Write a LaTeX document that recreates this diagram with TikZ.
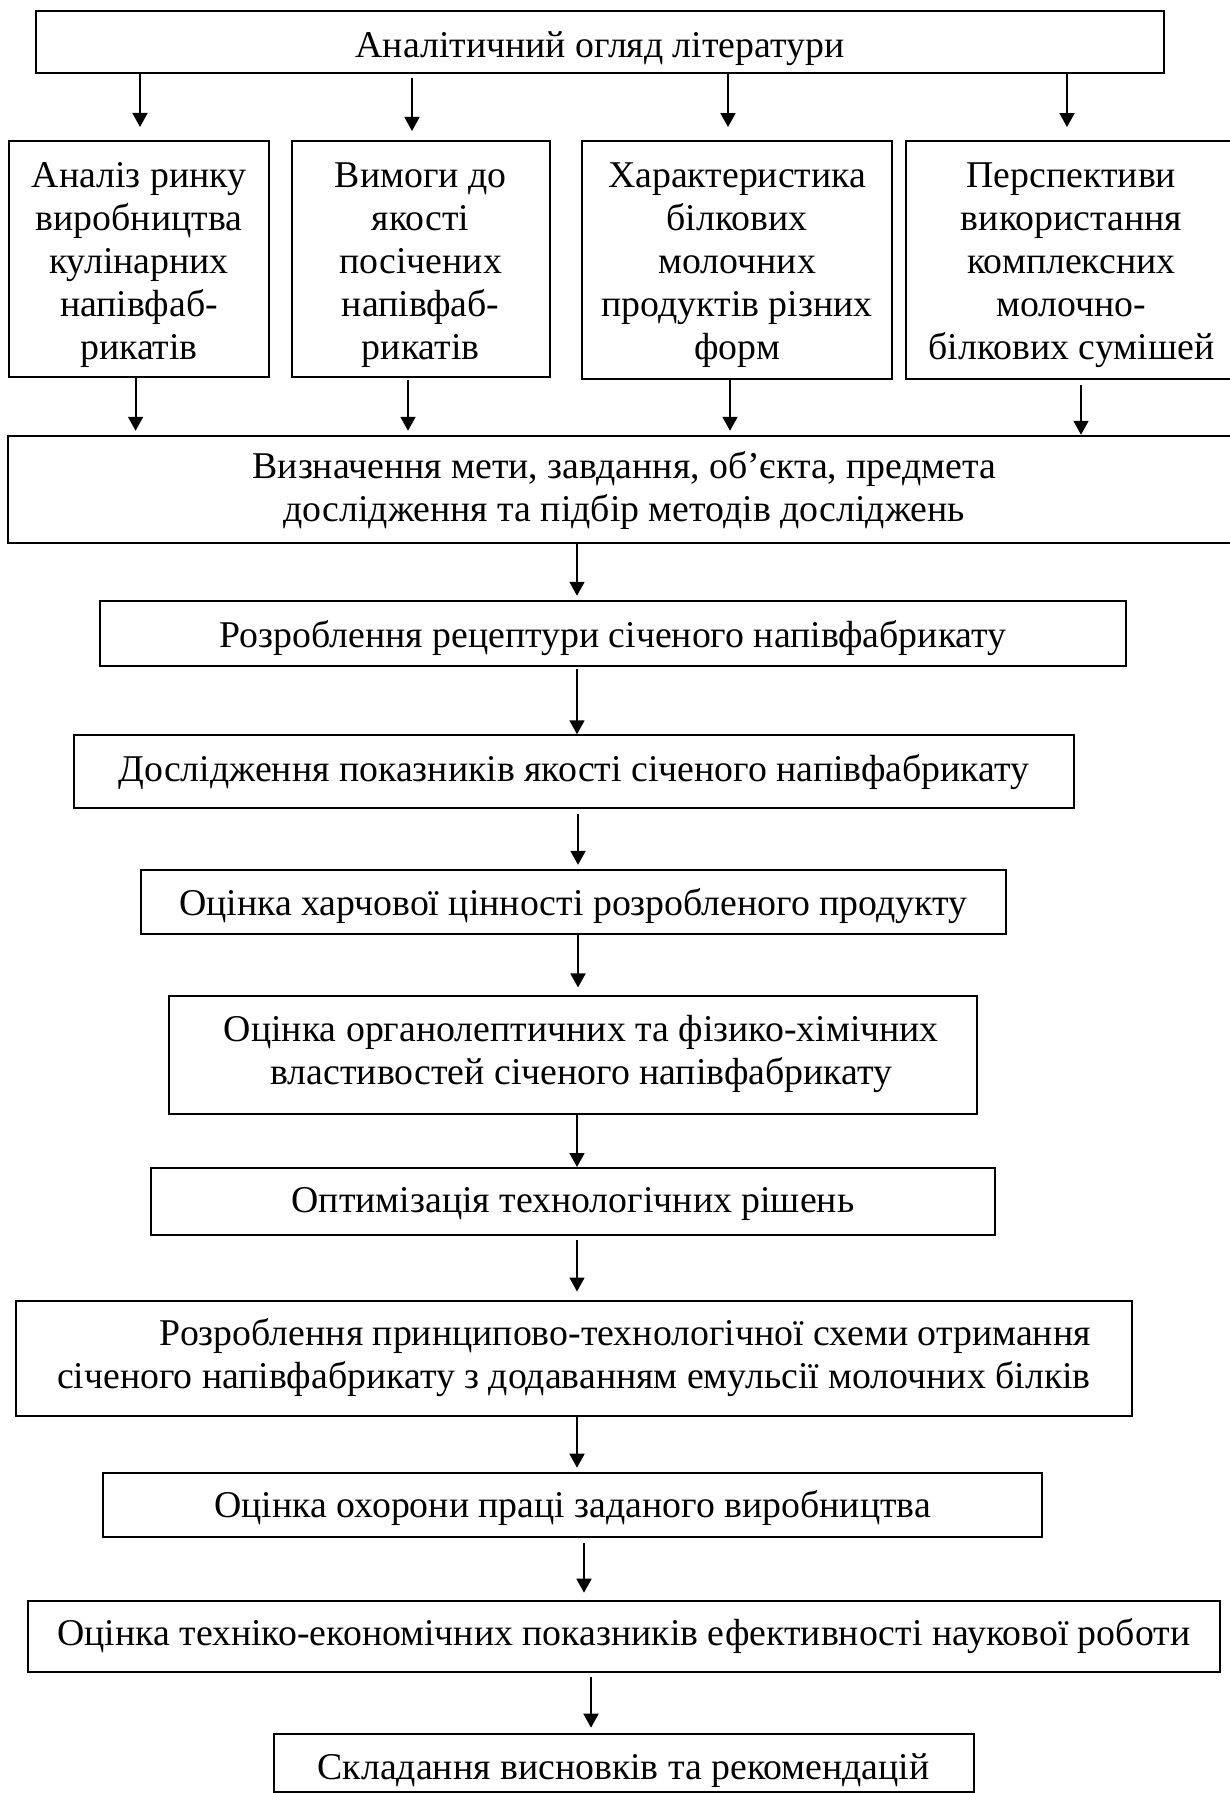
\documentclass[tikz,border=0pt]{standalone}
\usepackage{fontspec}
\setmainfont{Liberation Serif}
\usetikzlibrary{arrows.meta}
\newcommand{\mytxt}[3][c]{\raisebox{-#2}[\height][\depth]{\begin{tabular}{@{}#1@{}}#3\end{tabular}}}
\begin{document}
\begin{tikzpicture}[x=0.5pt,y=-0.5pt,
  box/.style={draw, line width=1pt, rectangle, inner sep=0pt, align=center,
    font=\fontsize{18.9}{21.5}\selectfont},
  arr/.style={-{Triangle[width=7.5pt,length=7pt]}, line width=0.9pt}]
\useasboundingbox (0,0) rectangle (1230,1793);

\node[box, minimum width=564.35pt, minimum height=30.85pt] (top) at (600,41.9) {\mytxt{3.3pt}{Аналітичний огляд літератури}};

\node[box, minimum width=130pt, minimum height=117.9pt] (b1) at (139,258.9) {\mytxt{2.8pt}{Аналіз ринку\\виробництва\\кулінарних\\напівфаб-\\рикатів}};
\node[box, minimum width=128.9pt, minimum height=117.9pt] (b2) at (420.7,258.9) {\mytxt{2.8pt}{Вимоги до\\якості\\посічених\\напівфаб-\\рикатів}};
\node[box, minimum width=155.15pt, minimum height=119.15pt] (b3) at (737.2,260.2) {\mytxt{2.2pt}{Характеристика\\білкових\\молочних\\продуктів різних\\форм}};
\node[box, minimum width=165.6pt, minimum height=119.15pt] (b4) at (1071.4,260.2) {\mytxt{2.2pt}{Перспективи\\використання\\комплексних\\молочно-\\білкових сумішей}};

\node[box, minimum width=615.75pt, minimum height=53.65pt] (big) at (624.2,489.4) {\mytxt{1pt}{Визначення мети, завдання, об’єкта, предмета\\дослідження та підбір методів досліджень}};

\node[box, minimum width=513.45pt, minimum height=32.55pt] (rec) at (613,633.7) {\mytxt{2.4pt}{Розроблення рецептури січеного напівфабрикату}};
\node[box, minimum width=500.15pt, minimum height=36.35pt] (dos) at (573.9,771.6) {\mytxt{0.5pt}{Дослідження показників якості січеного напівфабрикату}};
\node[box, minimum width=432.3pt, minimum height=32.15pt] (har) at (573.3,902) {\mytxt{2.2pt}{Оцінка харчової цінності розробленого продукту}};
\node[box, minimum width=404pt, minimum height=58.75pt] (org) at (573.4,1055.2) {\mytxt{-0.5pt}{\hspace*{8pt}Оцінка органолептичних та фізико-хімічних\\\hspace*{8pt}властивостей січеного напівфабрикату}};
\node[box, minimum width=421.6pt, minimum height=33.5pt] (opt) at (573,1201.5) {\mytxt{1.1pt}{Оптимізація технологічних рішень}};
\node[box, minimum width=558.35pt, minimum height=57.5pt] (pri) at (573.9,1358) {\mytxt[r]{0pt}{Розроблення принципово-технологічної схеми отримання\\січеного напівфабрикату з додаванням емульсії молочних білків}};
\node[box, minimum width=469.35pt, minimum height=31.9pt] (oho) at (572.7,1504.6) {\mytxt{2.1pt}{Оцінка охорони праці заданого виробництва}};
\node[box, minimum width=596.15pt, minimum height=35.8pt] (teh) at (623.7,1636.5) {\mytxt{0pt}{Оцінка техніко-економічних показників ефективності наукової роботи}};
\node[box, minimum width=349.85pt, minimum height=29pt] (skl) at (623.7,1762.7) {\mytxt{4pt}{Складання висновків та рекомендацій}};

\draw[arr, shorten >=6.5pt] (top.south -| 140,0) -- (b1.north -| 140,0);
\draw[arr, shorten <=2pt, shorten >=4.5pt] (top.south -| 412,0) -- (b2.north -| 412,0);
\draw[arr, shorten >=6.5pt] (top.south -| 728,0) -- (b3.north -| 728,0);
\draw[arr, shorten >=6.5pt] (top.south -| 1067,0) -- (b4.north -| 1067,0);

\draw[arr, shorten >=2pt] (b1.south -| 135.6,0) -- (big.north -| 135.6,0);
\draw[arr, shorten <=1pt, shorten >=2pt] (b2.south -| 408,0) -- (big.north -| 408,0);
\draw[arr, shorten >=2pt] (b3.south -| 730,0) -- (big.north -| 730,0);
\draw[arr, shorten <=2.5pt] (b4.south -| 1081,0) -- (big.north -| 1081,0);

\draw[arr, shorten >=2.2pt] (big.south -| 577,0) -- (rec.north -| 577,0);
\draw[arr, shorten <=1pt] (rec.south -| 577,0) -- (dos.north -| 577,0);
\draw[arr, shorten <=2.5pt, shorten >=2pt] (dos.south -| 578,0) -- (har.north -| 578,0);
\draw[arr, shorten >=4pt] (har.south -| 578,0) -- (org.north -| 578,0);
\draw[arr] (org.south -| 577,0) -- (opt.north -| 577,0);
\draw[arr, shorten <=2pt, shorten >=4pt] (opt.south -| 577,0) -- (pri.north -| 577,0);
\draw[arr, shorten >=2pt] (pri.south -| 577,0) -- (oho.north -| 577,0);
\draw[arr, shorten <=2.5pt, shorten >=3.5pt] (oho.south -| 584,0) -- (teh.north -| 584,0);
\draw[arr, shorten <=2pt, shorten >=2.5pt] (teh.south -| 591,0) -- (skl.north -| 591,0);
\end{tikzpicture}
\end{document}
